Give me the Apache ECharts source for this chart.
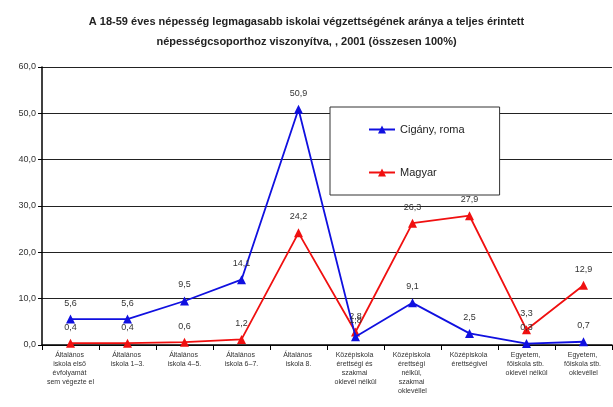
<!DOCTYPE html>
<html>
<head>
<meta charset="utf-8">
<script src="https://cdn.jsdelivr.net/npm/echarts@6/dist/echarts.min.js"></script>
<style>
  html, body { margin: 0; padding: 0; background: #fff; }
  #chart { width: 613px; height: 407px; }
</style>
</head>
<body>
<div id="chart"></div>
<script>
var categories = [
  "Általános iskola első évfolyamát sem végezte el",
  "Általános iskola 1–3.",
  "Általános iskola 4–5.",
  "Általános iskola 6–7.",
  "Általános iskola 8.",
  "Középiskola érettségi és szakmai oklevél nélkül",
  "Középiskola érettségi nélkül, szakmai oklevéllel",
  "Középiskola érettségivel",
  "Egyetem, főiskola stb. oklevél nélkül",
  "Egyetem, főiskola stb. oklevéllel"
];
var roma = [5.6, 5.6, 9.5, 14.1, 50.9, 1.8, 9.1, 2.5, 0.3, 0.7];
var magyar = [0.4, 0.4, 0.6, 1.2, 24.2, 2.8, 26.3, 27.9, 3.3, 12.9];
var seriesNames = ["Cigány, roma", "Magyar"];

var fmt = function (v) { return v.toFixed(1).replace(".", ","); };

var myChart = echarts.init(document.getElementById("chart"));
myChart.setOption({
  animation: false,
  textStyle: { fontFamily: "Liberation Sans, Arial, sans-serif" },
  title: {
    text: "A 18-59 éves népesség legmagasabb iskolai végzettségének aránya a teljes érintett\nnépességcsoporthoz viszonyítva, , 2001 (összesen 100%)",
    left: "center",
    top: 7,
    textStyle: { fontSize: 11, fontWeight: "bold", color: "#222", lineHeight: 20 }
  },
  legend: {
    orient: "vertical",
    left: 330,
    top: 107,
    width: 170,
    padding: [17, 35, 17, 38],
    itemGap: 32,
    itemWidth: 26,
    itemHeight: 10,
    borderColor: "#333",
    borderWidth: 1,
    backgroundColor: "#fff",
    textStyle: { fontSize: 11, color: "#222" },
    data: seriesNames
  },
  grid: { left: 42, right: 1, top: 67, bottom: 62 },
  xAxis: {
    type: "category",
    data: categories,
    boundaryGap: true,
    axisLine: { lineStyle: { color: "#000", width: 1.5 } },
    axisTick: { show: true, lineStyle: { color: "#000" } },
    axisLabel: {
      interval: 0,
      fontSize: 7,
      lineHeight: 9,
      color: "#333",
      width: 52,
      overflow: "break",
      margin: 6
    }
  },
  yAxis: {
    type: "value",
    min: 0,
    max: 60,
    interval: 10,
    axisLine: { show: true, lineStyle: { color: "#000", width: 1.5 } },
    axisTick: { show: true, length: 4, lineStyle: { color: "#000" } },
    axisLabel: { fontSize: 9, color: "#333", formatter: fmt, margin: 6 },
    splitLine: { lineStyle: { color: "#222", width: 1 } }
  },
  series: [
    {
      name: seriesNames[0],
      type: "line",
      data: roma,
      symbol: "triangle",
      symbolSize: 9,
      itemStyle: { color: "#1010e0" },
      lineStyle: { color: "#1010e0", width: 1.8 },
      label: { show: true, position: "top", distance: 7, fontSize: 9, color: "#333", formatter: function (p) { return fmt(p.value); } },
      z: 3
    },
    {
      name: seriesNames[1],
      type: "line",
      data: magyar,
      symbol: "triangle",
      symbolSize: 9,
      itemStyle: { color: "#f01010" },
      lineStyle: { color: "#f01010", width: 1.8 },
      label: { show: true, position: "top", distance: 7, fontSize: 9, color: "#333", formatter: function (p) { return fmt(p.value); } },
      z: 2
    }
  ]
});
</script>
</body>
</html>
